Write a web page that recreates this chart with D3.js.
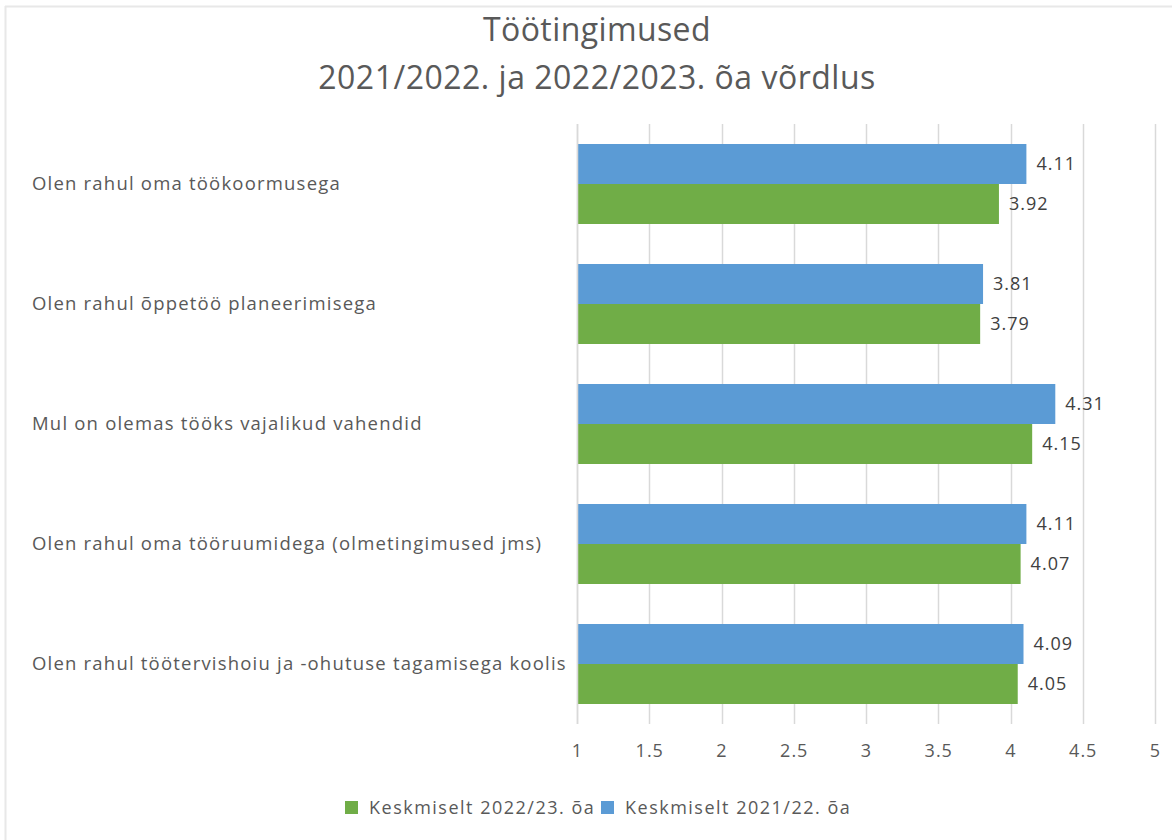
<!DOCTYPE html>
<html>
<head>
<meta charset="utf-8">
<script src="https://cdn.jsdelivr.net/npm/d3@7"></script>
<style>
  html, body { margin: 0; padding: 0; background: #fff; }
  svg { display: block; font-family: "Open Sans", "Noto Sans", sans-serif; }
</style>
</head>
<body>
<svg id="chart" width="1172" height="840"></svg>
<script>
const categories = [
  "Olen rahul oma töökoormusega",
  "Olen rahul õppetöö planeerimisega",
  "Mul on olemas tööks vajalikud vahendid",
  "Olen rahul oma tööruumidega (olmetingimused jms)",
  "Olen rahul töötervishoiu ja -ohutuse tagamisega koolis"
];
const values2122 = [4.11, 3.81, 4.31, 4.11, 4.09];
const values2223 = [3.92, 3.79, 4.15, 4.07, 4.05];
const seriesNames = ["Keskmiselt 2021/22. õa", "Keskmiselt 2022/23. õa"];
const legendOrder = ["Keskmiselt 2022/23. õa", "Keskmiselt 2021/22. õa"];
const tickValues = [1, 1.5, 2, 2.5, 3, 3.5, 4, 4.5, 5];
const titleLines = ["Töötingimused", "2021/2022. ja 2022/2023. õa võrdlus"];

const colors = {"Keskmiselt 2021/22. õa": "#5B9BD5", "Keskmiselt 2022/23. õa": "#70AD47"};
const seriesData = {"Keskmiselt 2021/22. õa": values2122, "Keskmiselt 2022/23. õa": values2223};

const svg = d3.select("#chart");

// chart border (left & top visible)
svg.append("line").attr("x1", 5.5).attr("x2", 5.5).attr("y1", 6).attr("y2", 840)
  .attr("stroke", "#e8e8e8").attr("stroke-width", 2);
svg.append("line").attr("x1", 5).attr("x2", 1172).attr("y1", 6.5).attr("y2", 6.5)
  .attr("stroke", "#e8e8e8").attr("stroke-width", 2);

// title
svg.append("text").attr("x", 597).attr("y", 41).attr("text-anchor", "middle")
  .attr("font-size", 32).attr("letter-spacing", 0.4).attr("fill", "#595959").text(titleLines[0]);
svg.append("text").attr("x", 597).attr("y", 89).attr("text-anchor", "middle")
  .attr("font-size", 32).attr("letter-spacing", 0.5).attr("fill", "#595959").text(titleLines[1]);

const x = d3.scaleLinear().domain([1, 5]).range([577, 1155]);
const y0 = d3.scaleBand().domain(categories).range([124, 724]).paddingInner(0).paddingOuter(0);
const y1 = d3.scaleBand().domain(seriesNames).range([20, 100]).padding(0);

// gridlines
svg.append("g").selectAll("line").data(tickValues).join("line")
  .attr("x1", d => Math.round(x(d)) + 0.5).attr("x2", d => Math.round(x(d)) + 0.5)
  .attr("y1", 124).attr("y2", 724)
  .attr("stroke", "#d9d9d9").attr("stroke-width", 1.5);

// x axis labels
const xAxis = d3.axisBottom(x).tickValues(tickValues).tickSize(0).tickFormat(d3.format("~g"));
const gx = svg.append("g").attr("transform", "translate(0,741)").call(xAxis);
gx.select(".domain").remove();
gx.selectAll("text").attr("font-size", 18).attr("letter-spacing", 1).attr("fill", "#595959")
  .attr("font-family", "\"Open Sans\", sans-serif");

// bars
const groups = svg.append("g").selectAll("g").data(categories).join("g")
  .attr("transform", d => `translate(0,${y0(d)})`);

groups.each(function(cat, i) {
  const g = d3.select(this);
  seriesNames.forEach(s => {
    const v = seriesData[s][i];
    g.append("rect")
      .attr("x", x(1)).attr("y", y1(s))
      .attr("width", x(v) - x(1)).attr("height", y1.bandwidth())
      .attr("fill", colors[s]);
    g.append("text")
      .attr("x", x(v) + 10).attr("y", y1(s) + y1.bandwidth() / 2)
      .attr("dy", "0.35em").attr("font-size", 18).attr("letter-spacing", 1)
      .attr("fill", "#404040")
      .text(d3.format(".2f")(v));
  });
});

// category axis line
svg.append("line").attr("x1", x(1) + 0.5).attr("x2", x(1) + 0.5).attr("y1", 124).attr("y2", 724)
  .attr("stroke", "#d9d9d9").attr("stroke-width", 1.5);

// category labels
svg.append("g").selectAll("text").data(categories).join("text")
  .attr("x", 32).attr("y", d => y0(d) + y0.bandwidth() / 2)
  .attr("dy", "0.35em").attr("font-size", 18.5).attr("letter-spacing", 1.2)
  .attr("fill", "#595959")
  .text(d => d);

// legend
const legendX = [345, 601];
const lg = svg.append("g").selectAll("g").data(legendOrder).join("g")
  .attr("transform", (d, i) => `translate(${legendX[i]},801)`);
lg.append("rect").attr("width", 13).attr("height", 13).attr("fill", d => colors[d]);
lg.append("text").attr("x", 24).attr("y", 7).attr("dy", "0.35em")
  .attr("font-size", 18).attr("letter-spacing", 1.5).attr("fill", "#595959").text(d => d);
</script>
</body>
</html>
